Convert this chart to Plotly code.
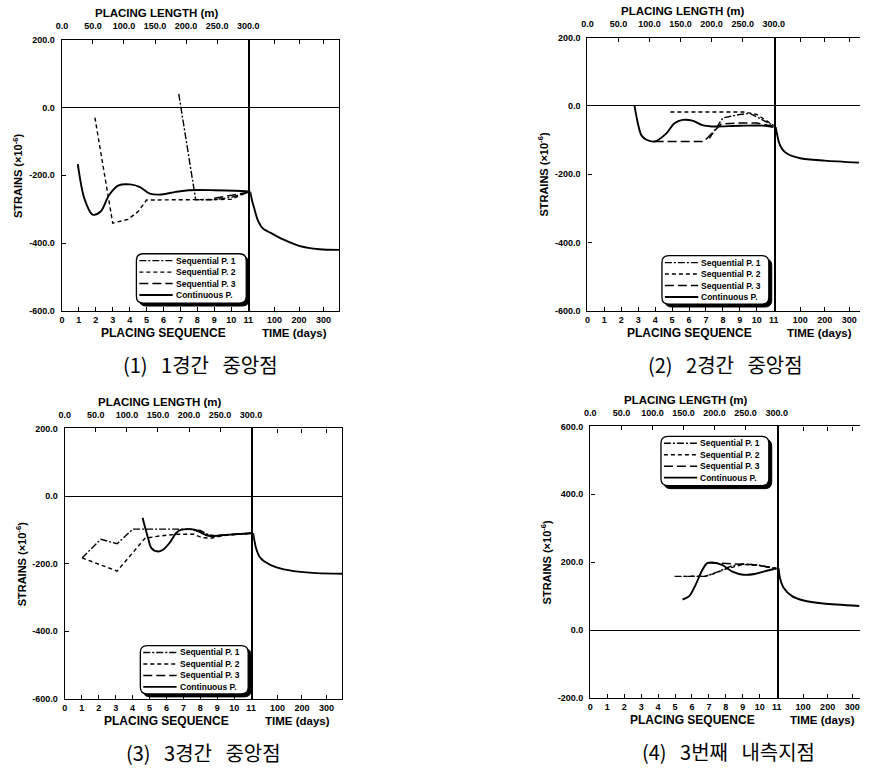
import plotly.graph_objects as go

# ---------------- data ----------------
SEQ_TICKS = list(range(0, 12))
LENGTH_TICKS = [0, 50, 100, 150, 200, 250, 300]
TIME_TICKS = [100, 200, 300]
Y_TICKS_A = [-600, -400, -200, 0, 200]
Y_TICKS_B = [-200, 0, 200, 400, 600]
SERIES_NAMES = ["Sequential P. 1", "Sequential P. 2", "Sequential P. 3", "Continuous P."]
SP = "\u00a0\u00a0\u00a0"
CAPTIONS = [f"(1){SP}1경간{SP}중앙점", f"(2){SP}2경간{SP}중앙점",
            f"(3){SP}3경간{SP}중앙점", f"(4){SP}3번째{SP}내측지점"]

# Panel 1 : 1st span centre
p1_seq1_x = [6.9, 7.9, 9.0, 10.0, 11.0]
p1_seq1_y = [40, -272, -272, -265, -250]
p1_seq2_x = [1.95, 3.0, 3.9, 4.5, 5.0, 8.0, 10.0, 11.0]
p1_seq2_y = [-30, -341, -330, -307, -273, -273, -271, -249]
p1_seq3_x = [9.0, 9.6, 10.2, 11.0]
p1_seq3_y = [-268, -262, -256, -250]
p1_cont_x = [0.94, 1.33, 1.81, 2.29, 2.78, 3.35, 4.03, 4.61, 5.19, 5.76, 6.72, 7.49, 9.0, 10.87, 11.0]
p1_cont_y = [-167, -269, -316, -307, -259, -230, -227, -235, -254, -257, -249, -244, -244, -247, -248]
p1_time_t = [0, 8, 17, 30, 51, 84, 137, 204, 284, 364]
p1_time_y = [-248, -275, -298, -330, -356, -370, -390, -409, -418, -420]

# Panel 2 : 2nd span centre
p2_seq1_x = [7.2, 8.0, 9.0, 9.6, 10.3, 11.0]
p2_seq1_y = [-95, -35, -25, -22, -40, -58]
p2_seq2_x = [4.9, 9.3, 10.0, 10.5, 11.0]
p2_seq2_y = [-18, -18, -25, -40, -57]
p2_seq3_x = [3.97, 6.87, 7.9, 9.0, 10.0, 11.0]
p2_seq3_y = [-104, -104, -53, -50, -50, -60]
p2_cont_x = [2.78, 3.01, 3.2, 3.49, 3.97, 4.65, 5.14, 5.62, 6.2, 6.77, 7.35, 9.0, 10.5, 11.0]
p2_cont_y = [0, -58, -87, -99, -104, -81, -51, -41, -43, -56, -60, -58, -58, -62]
p2_time_t = [0, 5, 13, 25, 47, 100, 200, 340]
p2_time_y = [-62, -80, -106, -125, -140, -153, -160, -166]

# Panel 3 : 3rd span centre
p3_seq1_x = [1.02, 2.12, 3.09, 4.01, 7.5, 8.0, 8.5, 9.0, 10.0, 11.0]
p3_seq1_y = [-183, -128, -141, -98, -98, -102, -115, -118, -113, -110]
p3_seq2_x = [1.02, 3.09, 4.73, 5.6, 6.66, 7.62, 8.1, 8.6, 9.5, 11.0]
p3_seq2_y = [-183, -222, -125, -118, -113, -113, -123, -125, -116, -110]
p3_seq3_x = [7.6, 8.1, 8.6, 9.5, 10.5, 11.0]
p3_seq3_y = [-100, -108, -118, -115, -112, -110]
p3_cont_x = [4.59, 4.92, 5.11, 5.5, 5.79, 6.18, 6.56, 6.85, 7.72, 8.1, 8.49, 9.5, 11.0]
p3_cont_y = [-64, -125, -154, -164, -159, -139, -110, -100, -100, -110, -118, -115, -110]
p3_time_t = [0, 5, 12, 25, 45, 99, 166, 259, 366]
p3_time_y = [-110, -130, -154, -178, -193, -212, -222, -228, -230]

# Panel 4 : 3rd interior support
p4_seq1_x = [4.97, 6.8, 7.58, 8.35, 9.03, 9.9, 11.0]
p4_seq1_y = [158, 158, 173, 189, 195, 192, 180]
p4_seq2_x = [5.5, 6.8, 7.3, 8.0, 9.0, 10.0, 11.0]
p4_seq2_y = [158, 159, 166, 180, 193, 190, 181]
p4_seq3_x = [7.0, 7.8, 8.5, 9.5, 10.5, 11.0]
p4_seq3_y = [198, 197, 196, 193, 186, 182]
p4_cont_x = [5.45, 5.84, 6.22, 6.61, 6.9, 7.19, 7.77, 8.35, 9.03, 9.7, 10.28, 10.86, 11.0]
p4_cont_y = [90, 100, 134, 177, 197, 199, 192, 173, 163, 165, 173, 180, 182]
p4_time_t = [0, 5, 21, 55, 102, 182, 329]
p4_time_y = [182, 155, 124, 100, 87, 78, 71]

PANEL_DATA = [
    dict(seq=[(p1_seq1_x, p1_seq1_y), (p1_seq2_x, p1_seq2_y), (p1_seq3_x, p1_seq3_y), (p1_cont_x, p1_cont_y)],
         time=(p1_time_t, p1_time_y), yt=Y_TICKS_A),
    dict(seq=[(p2_seq1_x, p2_seq1_y), (p2_seq2_x, p2_seq2_y), (p2_seq3_x, p2_seq3_y), (p2_cont_x, p2_cont_y)],
         time=(p2_time_t, p2_time_y), yt=Y_TICKS_A),
    dict(seq=[(p3_seq1_x, p3_seq1_y), (p3_seq2_x, p3_seq2_y), (p3_seq3_x, p3_seq3_y), (p3_cont_x, p3_cont_y)],
         time=(p3_time_t, p3_time_y), yt=Y_TICKS_A),
    dict(seq=[(p4_seq1_x, p4_seq1_y), (p4_seq2_x, p4_seq2_y), (p4_seq3_x, p4_seq3_y), (p4_cont_x, p4_cont_y)],
         time=(p4_time_t, p4_time_y), yt=Y_TICKS_B),
]

# ---------------- layout geometry (pixels) ----------------
W, H = 871, 770
GEOM = [
    dict(l=57, m=247, r0=249, r1=340, t=35, b=310, tmax=365, rmirror=True, leg=(133, 252, 245, 302)),
    dict(l=593, m=783, r0=785, r1=871, t=33, b=310, tmax=344, rmirror=False, leg=(669, 254, 778, 303)),
    dict(l=60, m=250, r0=252, r1=343, t=429, b=703, tmax=365, rmirror=True, leg=(137, 649, 247, 698)),
    dict(l=596, m=786, r0=788, r1=871, t=427, b=702, tmax=332, rmirror=False, leg=(668, 437, 778, 487)),
]
DASHES = ["7px,2px,2px,2px", "4px,3px", "9px,4px", "solid"]
WIDTHS = [1.4, 1.4, 1.5, 1.9]
FONT = "Liberation Sans, Arial, sans-serif"
TICKFONT = dict(family=FONT, size=9, color="black", weight="bold")


def px(x):
    return x / W


def py(y):
    return 1 - y / H


def ref(kind, n):
    return kind if n == 1 else f"{kind}{n}"


def lkey(kind, n):
    return f"{kind}axis" if n == 1 else f"{kind}axis{n}"


def rrect_path(x0, y0, x1, y1, r):
    pts = [
        ("M", [(x0 + r, y0)]), ("L", [(x1 - r, y0)]), ("Q", [(x1, y0), (x1, y0 + r)]),
        ("L", [(x1, y1 - r)]), ("Q", [(x1, y1), (x1 - r, y1)]), ("L", [(x0 + r, y1)]),
        ("Q", [(x0, y1), (x0, y1 - r)]), ("L", [(x0, y0 + r)]), ("Q", [(x0, y0), (x0 + r, y0)]),
    ]
    s = ""
    for cmd, ps in pts:
        s += cmd + " " + " ".join(f"{px(a):.5f},{py(b):.5f}" for a, b in ps) + " "
    return s + "Z"


def note(text, x, y, size, family=FONT, angle=0, xanchor="center"):
    return dict(text=text, x=px(x), y=py(y), xref="paper", yref="paper", showarrow=False,
                xanchor=xanchor, yanchor="middle", textangle=angle,
                font=dict(family=family, size=size, color="black"))


def bold(s):
    return f"<b>{s}</b>"


fig = go.Figure()
layout = dict(width=W, height=H, margin=dict(l=0, r=0, t=0, b=0), paper_bgcolor="white",
              plot_bgcolor="white", showlegend=False)
shapes, annotations = [], []

for i, (g, d) in enumerate(zip(GEOM, PANEL_DATA)):
    xl, xr, xt = 3 * i + 1, 3 * i + 2, 3 * i + 3
    yl, yr = 2 * i + 1, 2 * i + 2
    yrange = [d["yt"][0], d["yt"][-1]]
    ydom = [py(g["b"]), py(g["t"])]

    for k, (xs, ys) in enumerate(d["seq"]):
        fig.add_trace(go.Scatter(
            x=xs, y=ys, mode="lines", name=SERIES_NAMES[k],
            line=dict(color="black", width=WIDTHS[k], dash=DASHES[k],
                      shape="spline" if k == 3 else "linear", smoothing=0.9),
            xaxis=ref("x", xl), yaxis=ref("y", yl), hoverinfo="skip"))
    tt, ty = d["time"]
    fig.add_trace(go.Scatter(
        x=tt, y=ty, mode="lines", name=SERIES_NAMES[3],
        line=dict(color="black", width=WIDTHS[3], shape="spline", smoothing=0.8),
        xaxis=ref("x", xr), yaxis=ref("y", yr), hoverinfo="skip"))
    # empty trace so that the top "placing length" axis is drawn
    fig.add_trace(go.Scatter(x=LENGTH_TICKS, y=[None] * len(LENGTH_TICKS), mode="lines",
                             xaxis=ref("x", xt), yaxis=ref("y", yl), hoverinfo="skip",
                             showlegend=False))

    common = dict(showgrid=False, color="black", linecolor="black", linewidth=1.4,
                  tickcolor="black", ticklen=4, tickwidth=1.2, tickfont=TICKFONT)
    layout[lkey("x", xl)] = dict(common, domain=[px(g["l"]), px(g["m"])], anchor=ref("y", yl),
                                 range=[0, 11], tickvals=SEQ_TICKS, ticktext=[str(v) for v in SEQ_TICKS],
                                 ticks="inside", showline=True, mirror=True, zeroline=False)
    layout[lkey("x", xr)] = dict(common, domain=[px(g["r0"]), px(g["r1"])], anchor=ref("y", yr),
                                 range=[0, g["tmax"]], tickvals=TIME_TICKS,
                                 ticktext=[str(v) for v in TIME_TICKS],
                                 ticks="inside", showline=True, mirror="ticks", zeroline=False)
    layout[lkey("x", xt)] = dict(common, overlaying=ref("x", xl), side="top", anchor=ref("y", yl),
                                 range=[0, 300], tickvals=LENGTH_TICKS,
                                 ticktext=[f"{v:.1f}" for v in LENGTH_TICKS],
                                 ticks="inside", showline=False, zeroline=False,
                                 ticklabelstandoff=8)
    layout[lkey("y", yl)] = dict(common, domain=ydom, anchor=ref("x", xl), range=yrange,
                                 tickvals=d["yt"], ticktext=[f"{v:.1f}" for v in d["yt"]],
                                 ticks="inside", showline=True, mirror=True, ticklabelstandoff=4,
                                 zeroline=True, zerolinecolor="black", zerolinewidth=1.2)
    layout[lkey("y", yr)] = dict(common, domain=ydom, anchor=ref("x", xr), range=yrange,
                                 showticklabels=False, ticks="", showline=True, mirror=g["rmirror"],
                                 zeroline=True, zerolinecolor="black", zerolinewidth=1.2)

    # axis titles and caption
    cx = (g["l"] + g["m"]) / 2
    annotations.append(note(bold("PLACING LENGTH (m)"), cx + 2, g["t"] - 27, 11.5))
    annotations.append(note(bold("PLACING SEQUENCE"), cx + 9, g["b"] + 22, 12))
    annotations.append(note(bold("TIME (days)"), g["r0"] + 45, g["b"] + 22, 11.5))
    annotations.append(note(bold("STRAINS (×10<sup>-6</sup>)"), g["l"] - 45, (g["t"] + g["b"]) / 2,
                            11, angle=-90))
    annotations.append(note(CAPTIONS[i], g["l"] + 141, g["b"] + 54, 20, family="Noto Sans CJK KR"))

    # legend box with shadow
    L, T, R, B = g["leg"]
    shapes.append(dict(type="path", path=rrect_path(L + 3, T + 3, R + 3, B + 3, 7), xref="paper",
                       yref="paper", fillcolor="black", line=dict(color="black", width=1), layer="above"))
    shapes.append(dict(type="path", path=rrect_path(L, T, R, B, 7), xref="paper", yref="paper",
                       fillcolor="white", line=dict(color="black", width=1.3), layer="above"))
    for k, name in enumerate(SERIES_NAMES):
        yy = T + 7 + 11.6 * k
        shapes.append(dict(type="line", x0=px(L + 3), x1=px(L + 37), y0=py(yy), y1=py(yy),
                           xref="paper", yref="paper", layer="above",
                           line=dict(color="black", width=WIDTHS[k], dash=DASHES[k])))
        annotations.append(note(bold(name), L + 38, yy, 8.5, xanchor="left"))

layout["shapes"] = shapes
layout["annotations"] = annotations
fig.update_layout(**layout)
fig.write_html("out.html")
